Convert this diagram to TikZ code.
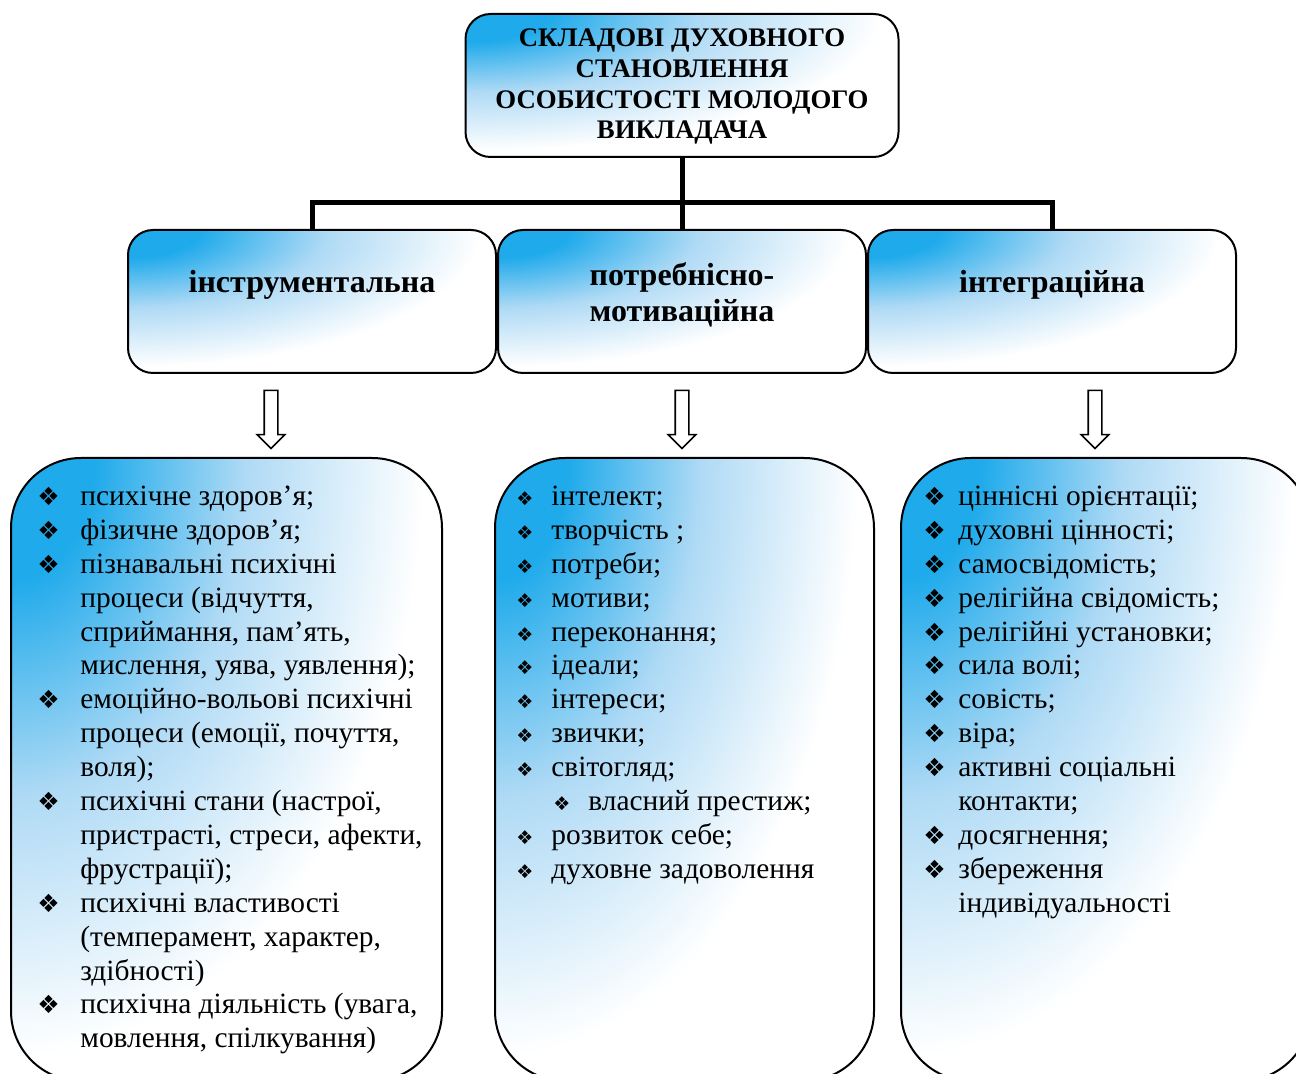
\documentclass[tikz,border=0pt]{standalone}
\usepackage{fontspec}
\setmainfont{Liberation Serif}
\newfontfamily\symfont{DejaVu Sans}
\usetikzlibrary{calc,shapes.arrows}

\definecolor{skyblue}{RGB}{30,170,235}
\definecolor{skylight}{RGB}{175,218,245}
\pgfdeclareradialshading{cornerfade}{\pgfpoint{0bp}{0bp}}{color(0bp)=(skyblue); color(3bp)=(skyblue); color(8.5bp)=(skylight); color(15bp)=(white); color(50bp)=(white)}

% bullets of the lists
\newcommand{\dia}[2]{\makebox[#1][l]{\symfont\fontsize{#2}{#2}\selectfont ❖}}
\newcommand{\bulA}{\dia{21.5pt}{12.5}}
\newcommand{\bulB}{\dia{17.5pt}{9.5}}
\newcommand{\bulC}{\dia{17.5pt}{12.5}}

\tikzset{
  fadefill/.style={fill=white, path picture={
    \shade[shading=cornerfade] let \p1=($(path picture bounding box.north east)-(path picture bounding box.south west)$) in
      (path picture bounding box.north west) ellipse [x radius={1.6*\x1}, y radius={1.6*\y1}];}},
  headbox/.style={draw, line width=1pt, rounded corners=12.5pt, fadefill, minimum height=71.5pt},
  listbox/.style={draw, line width=1pt, rounded corners=35pt, fadefill, anchor=north west, minimum height=311.5pt},
  titletext/.style={anchor=north, inner sep=0pt, align=center, font=\fontsize{13.4}{15.35}\selectfont\bfseries},
  headtext/.style={anchor=north, inner sep=0pt, align=center, font=\fontsize{16}{18}\selectfont\bfseries},
  listtext/.style={anchor=north west, inner sep=0pt, align=left, font=\fontsize{14.7}{16.95}\selectfont},
  bus/.style={line width=2.5pt},
  hollow/.style={single arrow, draw, line width=0.8pt, fill=white, shape border rotate=270,
    minimum height=29pt, inner sep=3pt, single arrow head extend=3.5pt, single arrow head indent=0pt}
}

\begin{document}
\begin{tikzpicture}[x=0.5pt, y=-0.5pt]
\clip (0,0) rectangle (1296,1074);

% title and the three components
\node[headbox, minimum width=216.5pt] (title) at (682,85.5) {};
\node[titletext] (titlet) at (682,25) {\strut СКЛАДОВІ ДУХОВНОГО\\СТАНОВЛЕННЯ\\ОСОБИСТОСТІ МОЛОДОГО\\ВИКЛАДАЧА};

\node[headbox, minimum width=184pt] (instr) at (312,301.5) {};
\node[headbox, minimum width=184pt] (motiv) at (682,301.5) {};
\node[headbox, minimum width=184pt] (integr) at (1052,301.5) {};
\node[headtext] (instrt) at (312,266.8) {\strut інструментальна};
\node[headtext] (motivt) at (682,259.8) {\strut потребнісно-\\мотиваційна};
\node[headtext] (integrt) at (1052,266.8) {\strut інтеграційна};

\coordinate (fork) at (682,203);
\draw[bus] (title.south) -- (motiv.north);
\draw[bus] (instr.north) |- (fork) -| (integr.north);

\node[hollow] (arrA) at (271,416) {};
\node[hollow] (arrB) at (682,416) {};
\node[hollow] (arrC) at (1095,416) {};

% lists
\node[listbox, minimum width=215.5pt] (listA) at (10,457) {};
\node[listbox, minimum width=189.5pt] (listB) at (494,457) {};
\node[listbox, minimum width=205pt] (listC) at (900,457) {};

\node[listtext] (textA) at (37,481.3) {\strut\bulA психічне здоров’я;\\
\bulA фізичне здоров’я;\\
\bulA пізнавальні психічні\\
\hspace*{21.5pt}процеси (відчуття,\\
\hspace*{21.5pt}сприймання, пам’ять,\\
\hspace*{21.5pt}мислення, уява, уявлення);\\
\bulA емоційно-вольові психічні\\
\hspace*{21.5pt}процеси (емоції, почуття,\\
\hspace*{21.5pt}воля);\\
\bulA психічні стани (настрої,\\
\hspace*{21.5pt}пристрасті, стреси, афекти,\\
\hspace*{21.5pt}фрустрації);\\
\bulA психічні властивості\\
\hspace*{21.5pt}(темперамент, характер,\\
\hspace*{21.5pt}здібності)\\
\bulA психічна діяльність (увага,\\
\hspace*{21.5pt}мовлення, спілкування)};

\node[listtext] (textB) at (516,481.3) {\strut\bulB інтелект;\\
\bulB творчість ;\\
\bulB потреби;\\
\bulB мотиви;\\
\bulB переконання;\\
\bulB ідеали;\\
\bulB інтереси;\\
\bulB звички;\\
\bulB світогляд;\\
\hspace*{18.5pt}\bulB власний престиж;\\
\bulB розвиток себе;\\
\bulB духовне задоволення};

\node[listtext] (textC) at (923,481.3) {\strut\bulC ціннісні орієнтації;\\
\bulC духовні цінності;\\
\bulC самосвідомість;\\
\bulC релігійна свідомість;\\
\bulC релігійні установки;\\
\bulC сила волі;\\
\bulC совість;\\
\bulC віра;\\
\bulC активні соціальні\\
\hspace*{17.5pt}контакти;\\
\bulC досягнення;\\
\bulC збереження\\
\hspace*{17.5pt}індивідуальності};
\end{tikzpicture}
\end{document}
